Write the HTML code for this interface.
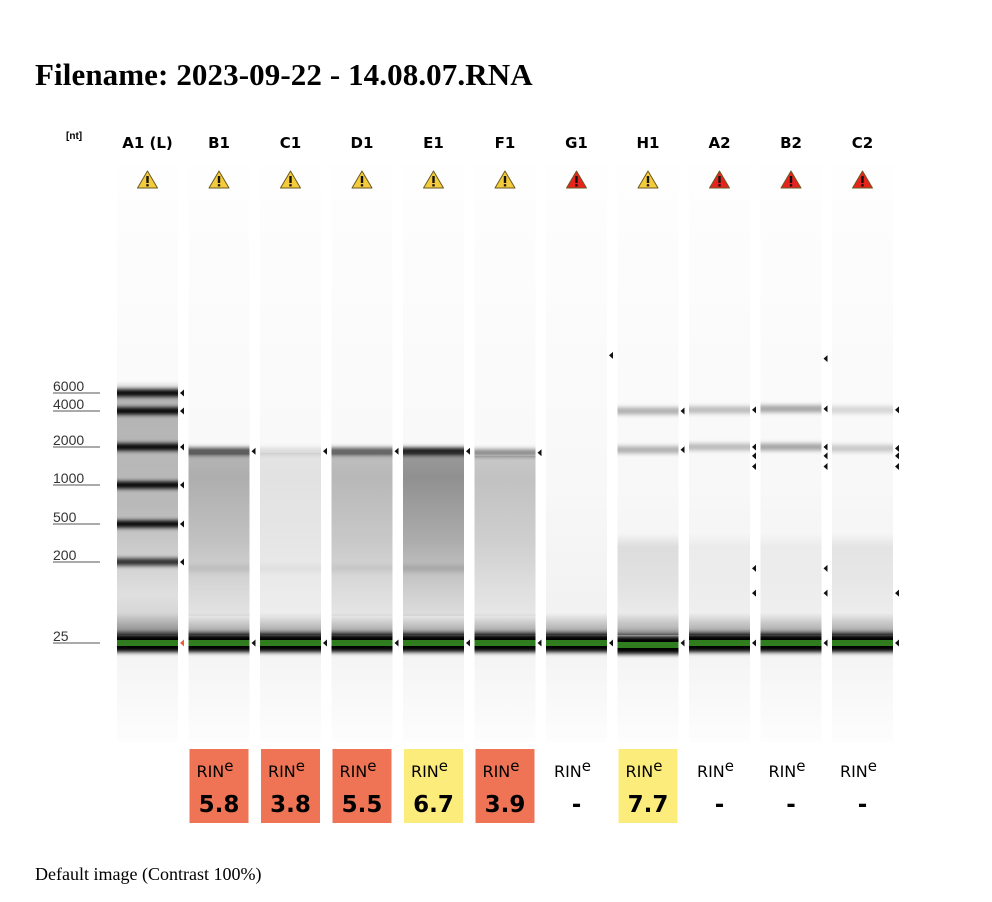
<!DOCTYPE html>
<html><head><meta charset="utf-8">
<style>
html,body{margin:0;padding:0;background:#fff;}
body{width:992px;height:902px;position:relative;overflow:hidden;}
#title{position:absolute;left:35px;top:57px;font:bold 31px "Liberation Serif",serif;color:#000;margin:0;letter-spacing:0.1px;}
#footer{position:absolute;left:35px;top:864px;font:18px "Liberation Serif",serif;color:#000;letter-spacing:0px;}
svg{position:absolute;left:0;top:0;}
</style></head><body>
<h1 id="title">Filename: 2023-09-22 - 14.08.07.RNA</h1>
<div id="footer">Default image (Contrast 100%)</div>
<svg id="gel" width="992" height="902"></svg>
<script>
// ---- data ----
const lanes = ["A1 (L)","B1","C1","D1","E1","F1","G1","H1","A2","B2","C2"];
const warnLevel = ["warn","warn","warn","warn","warn","warn","error","warn","error","error","error"];
const ladderSizes = [25,200,500,1000,2000,4000,6000];
const ladderY = [643,562,524,485,447,411,393]; // calibration of gel axis
const ladderIntensity = [1,0.8,1,1,1,1,1];
// sample bands: [nt, intensity]
const bandsB1 = [[1850,0.7],[170,0.08]];
const bandsC1 = [[1850,0.12],[170,0.04]];
const bandsD1 = [[1850,0.65],[170,0.06]];
const bandsE1 = [[1850,0.95],[170,0.12]];
const bandsF1 = [[1800,0.45]];
const bandsG1 = [];
const bandsH1 = [[4000,0.3],[1900,0.3]];
const bandsA2 = [[4100,0.25],[2000,0.25]];
const bandsB2 = [[4200,0.35],[2000,0.35]];
const bandsC2 = [[4100,0.15],[1950,0.2]];
const laneBands = [null,bandsB1,bandsC1,bandsD1,bandsE1,bandsF1,bandsG1,bandsH1,bandsA2,bandsB2,bandsC2];
// smear: [from nt, to nt, intensity]
const smears = [null,[1800,50,0.3],[1800,50,0.09],[1800,50,0.26],[1800,50,0.42],[1700,50,0.22],[0,0,0],[400,40,0.1],[400,40,0.04],[400,40,0.04],[400,40,0.07]];
const markersB1=[1850,25], markersC1=[1850,25], markersD1=[1850,25], markersE1=[1850,25], markersF1=[1800,25];
const markersG1=[14000,25], markersH1=[4000,1900,25];
const markersA2=[4100,2000,1700,1400,170,90,25];
const markersB2=[13000,4200,2000,1700,1400,170,90,25];
const markersC2=[4100,1950,1700,1400,90,25];
const laneMarkers=[ladderSizes,markersB1,markersC1,markersD1,markersE1,markersF1,markersG1,markersH1,markersA2,markersB2,markersC2];
const rinValues=[null,"5.8","3.8","5.5","6.7","3.9","-","7.7","-","-","-"];
const rinClass=[null,"red","red","red","yellow","red","none","yellow","none","none","none"];
const axisLabels=["6000","4000","2000","1000","500","200","25"];
const axisSizes=[6000,4000,2000,1000,500,200,25];

// ---- axis functions ----
function yOf(nt){
  const l=Math.log(nt);
  let i=0;
  for(i=0;i<ladderSizes.length-2;i++){ if(l<=Math.log(ladderSizes[i+1])) break; }
  const a=Math.log(ladderSizes[i]),b=Math.log(ladderSizes[i+1]);
  return ladderY[i]+(l-a)/(b-a)*(ladderY[i+1]-ladderY[i]);
}
const LANE0=117, PITCH=71.5, LW=61, TOP=165, BOT=742;
function xOf(i){return LANE0+i*PITCH;}

const NS="http://www.w3.org/2000/svg";
const svg=document.getElementById('gel');
function mk(tag,attrs,parent){const e=document.createElementNS(NS,tag);for(const k in attrs)e.setAttribute(k,attrs[k]);(parent||svg).appendChild(e);return e;}
const defs=mk('defs',{});
function grad(id,stops){const g=mk('linearGradient',{id:id,x1:0,y1:0,x2:0,y2:1},defs);stops.forEach(s=>mk('stop',{offset:s[0],"stop-color":s[1],"stop-opacity":s[2]===undefined?1:s[2]},g));return g;}
grad('laneBg',[[0,'#fefefe'],[0.55,'#f8f8f8'],[0.8,'#f1f1f1'],[0.88,'#f6f6f6'],[1,'#fdfdfd']]);
grad('haze',[[0,'#000',0],[0.7,'#000',0.25],[1,'#000',0.5]]);
grad('ladderBg',[[0,'#000',0],[0.06,'#000',0.28],[0.5,'#000',0.25],[0.85,'#000',0.08],[1,'#000',0.15]]);
const bl=mk('filter',{id:'blur',x:'-5%',y:'-300%',width:'110%',height:'700%'},defs);
mk('feGaussianBlur',{stdDeviation:'0 2.2'},bl);

// axis
const nt=mk('text',{x:66,y:139,"font-family":"Liberation Sans, sans-serif","font-size":10,"font-weight":"bold"});
nt.textContent='[nt]';


axisLabels.forEach((lab,i)=>{
  const y=yOf(axisSizes[i]);
  const t=mk('text',{x:53,y:y-2,"font-family":"Liberation Sans, sans-serif","font-size":14,fill:'#333'});
  t.textContent=lab;
  
  
  const ln=mk('line',{x1:53,x2:100,y1:y,y2:y,stroke:'#555',"stroke-width":1});
  
  
});

lanes.forEach((name,i)=>{
  const x=xOf(i), cx=x+LW/2;
  const g=mk('g',{});
  
  
  const lab=mk('text',{x:cx,y:148,"text-anchor":"middle","font-family":"DejaVu Sans, sans-serif","font-size":15,"font-weight":"bold"},g);
  lab.textContent=name;
  
  
  mk('rect',{x:x,y:TOP,width:LW,height:BOT-TOP,fill:'url(#laneBg)'},g);
  if(i===0){
    mk('rect',{x:x,y:yOf(6000)-12,width:LW,height:yOf(25)-yOf(6000)+2,fill:'url(#ladderBg)'},g);
  } else {
    const s=smears[i];
    if(s[2]>0){
      const gid='sm'+i;
      const start = s[0]<1000 ? 0 : s[2]*0.9;
      grad(gid,[[0,'#000',start],[0.15,'#000',s[2]],[0.55,'#000',s[2]*0.7],[0.85,'#000',s[2]*0.35],[1,'#000',s[2]*0.2]]);
      const r=mk('rect',{x:x,y:yOf(s[0]),width:LW,height:yOf(s[1])-yOf(s[0]),fill:'url(#'+gid+')'},g);
      
      
    }
  }
  mk('rect',{x:x,y:yOf(25)-30,width:LW,height:22,fill:'url(#haze)'},g);
  const bands = i===0 ? ladderSizes.slice(1).map((s,k)=>[s,ladderIntensity[k+1]]) : laneBands[i];
  bands.forEach(b=>{
    const r=mk('rect',{x:x,y:yOf(b[0])-3.5,width:LW,height:7,fill:'#000',"fill-opacity":b[1],filter:'url(#blur)'},g);
    
    
  });
  const ly=yOf(25)+(i===7?2:0);
  mk('rect',{x:x,y:ly-9,width:LW,height:18,fill:'#000',filter:'url(#blur)'},g);
  const gm=mk('rect',{x:x,y:ly-3,width:LW,height:6,fill:'#2f7d1e'},g);
  
  
  laneMarkers[i].forEach(m=>{
    const y=yOf(m);
    const ax=x+LW+2;
    const p=mk('polygon',{points:`${ax},${y} ${ax+4},${y-3.5} ${ax+4},${y+3.5}`,fill:(i===0&&m===25)?'#e8603a':'#111'},g);
    
    
  });
  const col=warnLevel[i]==='warn'?'#f4cb3a':'#e8231e';
  const w=mk('g',{},g);
  
  
  mk('polygon',{points:`${cx},${171} ${cx+10},${188} ${cx-10},${188}`,fill:col,stroke:'#6a5a20',"stroke-width":1,"stroke-linejoin":"round"},w);
  mk('rect',{x:cx-1.2,y:176,width:2.4,height:7,fill:'#111'},w);
  mk('rect',{x:cx-1.2,y:184.2,width:2.4,height:2.2,fill:'#111'},w);
  if(i>0){
    const rg=mk('g',{},g);
    
    
    const fill=rinClass[i]==='red'?'#ee7455':rinClass[i]==='yellow'?'#fcec7c':'#fff';
    mk('rect',{x:x+1,y:749,width:LW-2,height:74,fill:fill},rg);
    const t=mk('text',{x:cx-4,y:777,"text-anchor":"middle","font-family":"DejaVu Sans, sans-serif","font-size":16,fill:'#000'},rg);
    t.textContent='RIN';
    const sp=mk('tspan',{dy:-6,"font-size":15},t);
    sp.textContent='e';
    const v=mk('text',{x:cx,y:812,"text-anchor":"middle","font-family":"DejaVu Sans, sans-serif","font-size":23,"font-weight":"bold",fill:'#000'},rg);
    v.textContent=rinValues[i];
  }
});
</script>
</body></html>
